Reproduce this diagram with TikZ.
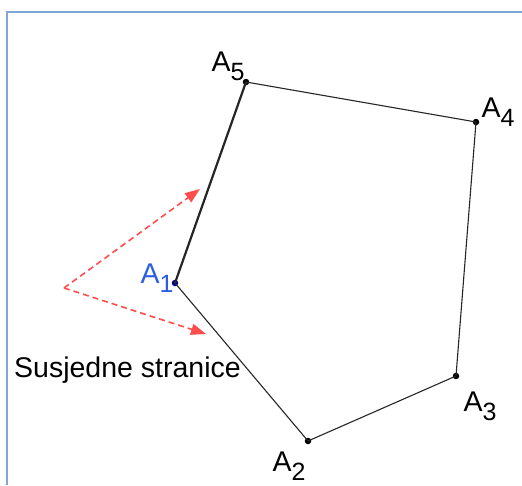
\documentclass[tikz,border=0pt]{standalone}
\usepackage{fontspec}
\setmainfont{Liberation Sans}
\usetikzlibrary{arrows.meta}
\definecolor{framecol}{HTML}{7FA6D6}
\definecolor{labelblue}{HTML}{2B5FE0}
\newcommand{\vname}[1]{A\raisebox{-0.32em}{\fontsize{25}{25}\selectfont #1}}
\begin{document}
\begin{tikzpicture}[
x=1pt,y=-1pt,
vertex/.style={circle,fill=black,inner sep=0pt,minimum size=6.5pt},
side/.style={line width=1.1pt,black!85},
hint/.style={red!70,line width=1.6pt,dash pattern=on 6pt off 4pt,-{Triangle[length=15pt,width=11pt]}},
every node/.style={font=\fontsize{28.5}{32}\selectfont}
]
\useasboundingbox (0,0) rectangle (522,485);
\draw[framecol,line width=1.2pt] (7,485) -- (7,12) -- (522,12);
% vertices
\node[vertex,fill=blue!60!black] (a1) at (175,283) {};
\node[vertex] (a2) at (308,441) {};
\node[vertex] (a3) at (456,376) {};
\node[vertex] (a4) at (476,122) {};
\node[vertex] (a5) at (246,82) {};
% sides
\draw[side,line width=2.2pt] (a1.center) -- (a5.center);
\draw[side] (a5.center) -- (a4.center) -- (a3.center) -- (a2.center) -- (a1.center);
% names
\node[labelblue] (n1) at (157,278) {\vname{1}};
\node (n2) at (289,466) {\vname{2}};
\node (n3) at (480,406) {\vname{3}};
\node (n4) at (498,112) {\vname{4}};
\node (n5) at (228,66) {\vname{5}};
% red hints
\coordinate (tip) at (64,288);
\coordinate (upper) at (200,189);
\coordinate (lower) at (206,334);
\draw[hint] (tip) -- (upper);
\draw[hint] (tip) -- (lower);
\node[anchor=base west,inner sep=0pt] (caption) at (14,377) {Susjedne stranice};
\end{tikzpicture}
\end{document}
